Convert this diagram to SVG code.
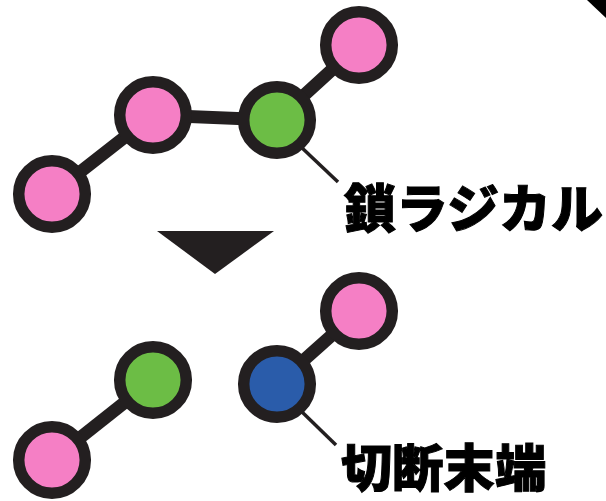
<svg xmlns="http://www.w3.org/2000/svg" width="606" height="501" viewBox="0 0 606 501">
<style>
.n{stroke:#231f20;stroke-width:11.5}
.p{fill:#f57fc5}.g{fill:#6cbd45}.b{fill:#2a5caa}
.b1{stroke:#231f20;stroke-width:13;fill:none}
.l{stroke:#231f20;stroke-width:3.5;fill:none}
text{font-family:"Noto Sans CJK JP","Noto Sans",sans-serif;font-weight:900;fill:#000;stroke:#000;stroke-width:1;font-size:52px}
</style>
<g id="connectors">
<path class="b1" d="M52 194L153 115L277 120L359 45"/>
<path class="b1" d="M52 460L153 380"/>
<path class="b1" d="M277 384L359 311"/>
<path class="l" d="M300 146L338 182"/>
<path class="l" d="M300 410L336 445"/>
</g>
<g id="n1"><circle class="n p" cx="52" cy="194" r="33.3"/></g>
<g id="n2"><circle class="n p" cx="153" cy="115" r="33.3"/></g>
<g id="n3"><circle class="n g" cx="277" cy="120" r="33.3"/></g>
<g id="n4"><circle class="n p" cx="359" cy="45" r="33.3"/></g>
<g id="n5"><circle class="n p" cx="52" cy="460" r="33.3"/></g>
<g id="n6"><circle class="n g" cx="153" cy="380" r="33.3"/></g>
<g id="n7"><circle class="n b" cx="277" cy="384" r="33.3"/></g>
<g id="n8"><circle class="n p" cx="359" cy="311" r="33.3"/></g>
<g id="arrow"><polygon points="157,231 274,231 215,274" fill="#231f20"/></g>
<g id="corner"><polygon points="587,0 606,0 606,18" fill="#000"/></g>
<g id="label1"><text x="344" y="228">鎖ラジカル</text></g>
<g id="label2"><text x="341" y="487" style="font-size:51.3px">切断末端</text></g>
</svg>
